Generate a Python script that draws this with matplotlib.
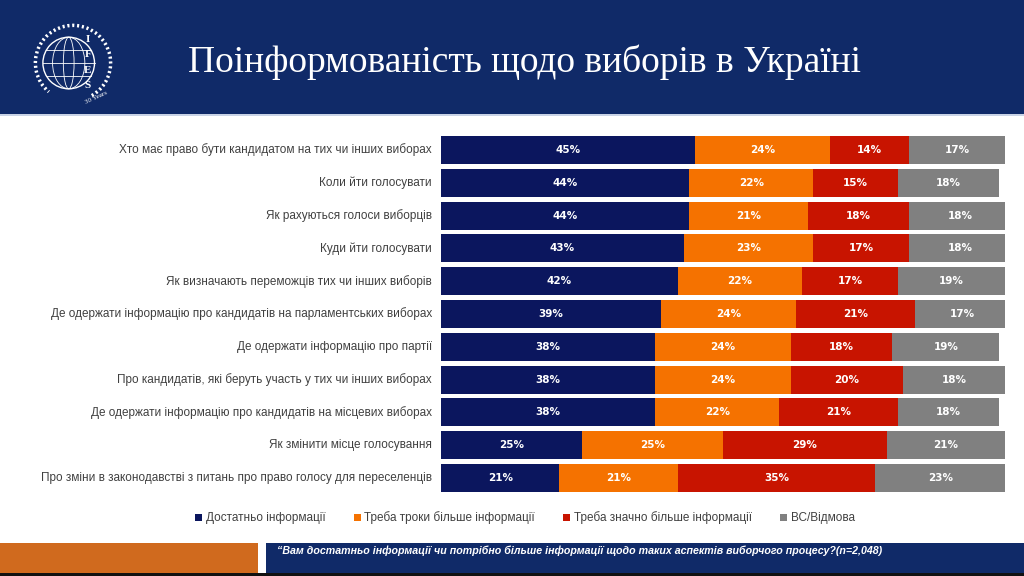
import matplotlib.pyplot as plt
from matplotlib.patches import Rectangle, Circle, Ellipse, Arc
import numpy as np

# DATA
categories = [
    "Хто має право бути кандидатом на тих чи інших виборах",
    "Коли йти голосувати",
    "Як рахуються голоси виборців",
    "Куди йти голосувати",
    "Як визначають переможців тих чи інших виборів",
    "Де одержати інформацію про кандидатів на парламентських виборах",
    "Де одержати інформацію про партії",
    "Про кандидатів, які беруть участь у тих чи інших виборах",
    "Де одержати інформацію про кандидатів на місцевих виборах",
    "Як змінити місце голосування",
    "Про зміни в законодавстві з питань про право голосу для переселенців",
]
enough = [45, 44, 44, 43, 42, 39, 38, 38, 38, 25, 21]
bit_more = [24, 22, 21, 23, 22, 24, 24, 24, 22, 25, 21]
much_more = [14, 15, 18, 17, 17, 21, 18, 20, 21, 29, 35]
dk_refused = [17, 18, 18, 18, 19, 17, 19, 18, 18, 21, 23]
series_names = ["Достатньо інформації", "Треба троки більше інформації",
                "Треба значно більше інформації", "ВС/Відмова"]
title = "Поінформованість щодо виборів в Україні"
footnote = ("\u201cВам достатньо інформації чи потрібно більше інформації щодо таких "
            "аспектів виборчого процесу?(n=2,048)")

colors = ["#0b165e", "#f57200", "#c81400", "#808080"]
W, H = 1024, 576

fig = plt.figure(figsize=(W / 100, H / 100), dpi=100)
fig.patch.set_facecolor("white")

# HEADER BAND
fig.patches.append(Rectangle((0, 1 - 114 / H), 1, 114 / H, transform=fig.transFigure,
                             facecolor="#102a68", edgecolor="none", zorder=0))
fig.patches.append(Rectangle((0, 1 - 116 / H), 1, 2 / H, transform=fig.transFigure,
                             facecolor="#c9d3e6", edgecolor="none", zorder=0))
fig.text(525 / W, 1 - 62 / H, title, color="white", fontsize=27,
         family="Liberation Serif", ha="center", va="center")

# LOGO (simplified globe)
lax = fig.add_axes([30 / W, 1 - 106 / H, 86 / W, 86 / H], zorder=5)
lax.set_xlim(-1, 1)
lax.set_ylim(-1, 1)
lax.set_aspect("equal")
lax.axis("off")
lax.add_patch(Circle((-0.1, 0), 0.6, fill=False, ec="white", lw=1.0))
for w in [0.25, 0.75]:
    lax.add_patch(Ellipse((-0.1, 0), w, 1.2, fill=False, ec="white", lw=0.6))
for yy in [-0.3, 0.0, 0.3]:
    hw = np.sqrt(max(0.6 ** 2 - yy ** 2, 0))
    lax.plot([-0.1 - hw, -0.1 + hw], [yy, yy], color="white", lw=0.6)
lax.add_patch(Arc((0, 0), 1.75, 1.75, theta1=-60, theta2=230, ec="white", lw=2.5, ls=(0, (0.6, 0.8))))
for i, ch in enumerate("IFES"):
    lax.text(0.35, 0.55 - i * 0.36, ch, color="white", fontsize=8, fontweight="bold",
             family="Liberation Serif", ha="center", va="center")
lax.text(0.55, -0.8, "30 Years", color="white", fontsize=5, family="Liberation Serif",
         rotation=25, ha="center", va="center")

# MAIN BARS
top_px, bot_px = 133.6, 494.4
ax = fig.add_axes([441 / W, 1 - bot_px / H, 564 / W, (bot_px - top_px) / H])
y = np.arange(len(categories))
left = np.zeros(len(categories))
handles = []
for vals, col, name in zip([enough, bit_more, much_more, dk_refused], colors, series_names):
    vals = np.array(vals, dtype=float)
    b = ax.barh(y, vals, left=left, height=0.85, color=col, edgecolor="none", label=name)
    handles.append(b)
    for yi, (l, v) in enumerate(zip(left, vals)):
        ax.text(l + v / 2, yi, f"{int(v)}%", color="white", fontsize=7.5,
                fontweight="bold", ha="center", va="center", family="DejaVu Sans")
    left += vals

ax.set_xlim(0, 100)
ax.set_ylim(len(categories) - 0.5, -0.5)
ax.axis("off")
for yi, cat in enumerate(categories):
    ax.text(-1.6, yi, cat, ha="right", va="center", fontsize=8.5, color="#404040",
            family="Liberation Sans")

# LEGEND
fig.legend(handles=handles, labels=series_names, loc="center",
           bbox_to_anchor=(525 / W, 1 - 518 / H), ncol=4, frameon=False,
           handlelength=0.6, handleheight=0.6, handletextpad=0.3,
           columnspacing=2.4, labelcolor="#404040", prop={"family": "Liberation Sans", "size": 8.5})

# FOOTER
fig.patches.append(Rectangle((0, 3 / H), 258 / W, 30 / H, transform=fig.transFigure,
                             facecolor="#d06a1e", edgecolor="none"))
fig.patches.append(Rectangle((266 / W, 3 / H), 1 - 266 / W, 30 / H, transform=fig.transFigure,
                             facecolor="#102a68", edgecolor="none"))
fig.patches.append(Rectangle((0, 0), 1, 3 / H, transform=fig.transFigure,
                             facecolor="#111111", edgecolor="none"))
fig.text(277 / W, 1 - 551 / H, footnote, color="white", fontsize=7.7, fontstyle="italic",
         fontweight="bold", family="Liberation Sans", ha="left", va="center")

fig.savefig("out.png", dpi=100)
